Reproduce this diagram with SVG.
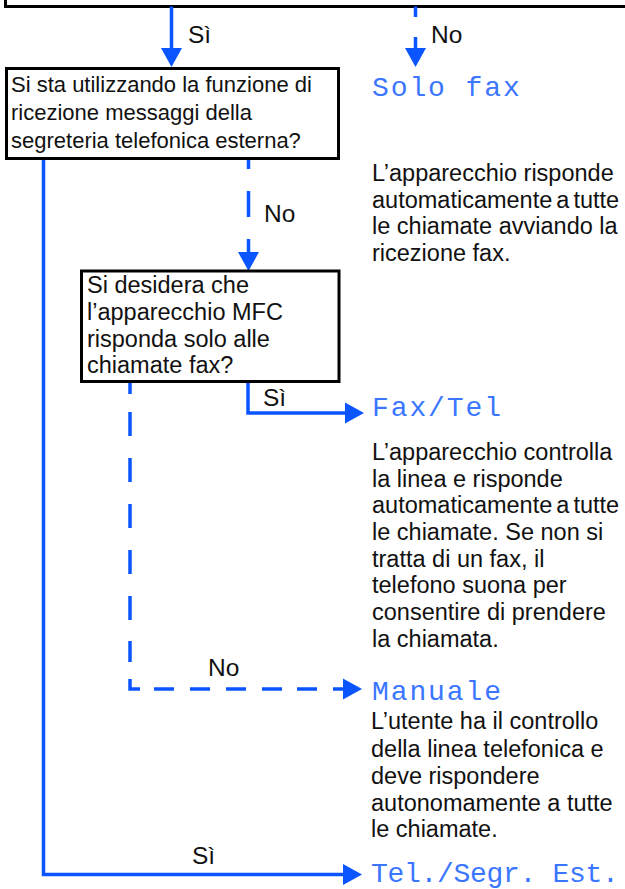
<svg xmlns="http://www.w3.org/2000/svg" width="625" height="889" viewBox="0 0 625 889">
  <style>
    .box { fill: #ffffff; stroke: #000000; stroke-width: 3; }
    .q2 { font-family: "Liberation Sans", Arial, sans-serif; font-size: 22px; fill: #111111; }
    .q3 { font-family: "Liberation Sans", Arial, sans-serif; font-size: 23.5px; fill: #111111; }
    .desc { font-family: "Liberation Sans", Arial, sans-serif; font-size: 23.5px; fill: #111111; }
    .lbl { font-family: "Liberation Sans", Arial, sans-serif; font-size: 24.5px; fill: #111111; }
    .lcd { font-family: "Liberation Mono", "DejaVu Sans Mono", monospace; font-size: 28px; fill: #3a76ff; letter-spacing: 1.9px; }
    .wire { fill: none; stroke: #0a55ff; stroke-width: 3.5; stroke-linejoin: miter; stroke-linecap: butt; }
  </style>
  <defs>
    <marker id="ah" markerUnits="userSpaceOnUse" markerWidth="20" markerHeight="22" viewBox="0 -11 20 22" refX="0" refY="0" orient="auto">
      <path d="M0,-10.5 L19,0 L0,10.5 Z" fill="#0a55ff"/>
    </marker>
  </defs>

  <rect width="625" height="889" fill="#ffffff"/>

  <g id="node-top">
    <path d="M5.5,-10 V6.5 H640" fill="none" stroke="#000000" stroke-width="3"/>
  </g>

  <g id="connectors">
    <path class="wire" d="M171.5,6.5 V48" marker-end="url(#ah)"/>
    <path class="wire" d="M415.5,6.5 V48" stroke-dasharray="10.5 20 30" marker-end="url(#ah)"/>
    <path class="wire" d="M248.5,158.5 V252" stroke-dasharray="26 22" stroke-dashoffset="15.5" marker-end="url(#ah)"/>
    <path class="wire" d="M43.5,158.5 V874.5 H343" marker-end="url(#ah)"/>
    <path class="wire" d="M248,381.5 V413 H345" marker-end="url(#ah)"/>
    <path class="wire" d="M130,381.5 V394 M130,412 V436 M130,458 V482 M130,504 V528 M130,550 V574 M130,596 V620 M130,641 V662 M130,679 V689 H140 M154,689 H174 M190,689 H210 M226,689 H246 M262,689 H282 M297,689 H317 M333,689 H343" marker-end="url(#ah)"/>
    <text class="lbl" x="188" y="43">Sì</text>
    <text class="lbl" x="431" y="43">No</text>
    <text class="lbl" x="264" y="222">No</text>
    <text class="lbl" x="263" y="406">Sì</text>
    <text class="lbl" x="208" y="676">No</text>
    <text class="lbl" x="192" y="864">Sì</text>
  </g>

  <g id="node-q-segreteria">
    <rect class="box" x="6.5" y="68.5" width="332" height="90"/>
    <text class="q2" x="11" y="92">Si sta utilizzando la funzione di</text>
    <text class="q2" x="11" y="120">ricezione messaggi della</text>
    <text class="q2" x="11" y="148">segreteria telefonica esterna?</text>
  </g>

  <g id="node-q-solofax">
    <rect class="box" x="81.5" y="271" width="257.5" height="110.5"/>
    <text class="q3" x="87" y="293">Si desidera che</text>
    <text class="q3" x="87" y="320">l’apparecchio MFC</text>
    <text class="q3" x="87" y="346.5">risponda solo alle</text>
    <text class="q3" x="87" y="373">chiamate fax?</text>
  </g>

  <g id="node-solo-fax">
    <text class="lcd" x="372" y="96">Solo fax</text>
    <text class="desc" x="372" y="181">L’apparecchio risponde</text>
    <text class="desc" x="372" y="207.5" word-spacing="-2.5">automaticamente a tutte</text>
    <text class="desc" x="372" y="234">le chiamate avviando la</text>
    <text class="desc" x="372" y="260.7">ricezione fax.</text>
  </g>

  <g id="node-fax-tel">
    <text class="lcd" x="372" y="416">Fax/Tel</text>
    <text class="desc" x="372" y="460">L’apparecchio controlla</text>
    <text class="desc" x="372" y="486.5">la linea e risponde</text>
    <text class="desc" x="372" y="513.3" word-spacing="-2.5">automaticamente a tutte</text>
    <text class="desc" x="372" y="540">le chiamate. Se non si</text>
    <text class="desc" x="372" y="566.7">tratta di un fax, il</text>
    <text class="desc" x="372" y="593.3">telefono suona per</text>
    <text class="desc" x="372" y="620">consentire di prendere</text>
    <text class="desc" x="372" y="646.7">la chiamata.</text>
  </g>

  <g id="node-manuale">
    <text class="lcd" x="372" y="700">Manuale</text>
    <text class="desc" x="371" y="729.3">L’utente ha il controllo</text>
    <text class="desc" x="371" y="756.5">della linea telefonica e</text>
    <text class="desc" x="371" y="784">deve rispondere</text>
    <text class="desc" x="371" y="810.7">autonomamente a tutte</text>
    <text class="desc" x="371" y="837.3">le chiamate.</text>
  </g>

  <g id="node-tel-segr">
    <text class="lcd" x="371" y="882" style="letter-spacing:-0.3px">Tel./Segr. Est.</text>
  </g>
</svg>
